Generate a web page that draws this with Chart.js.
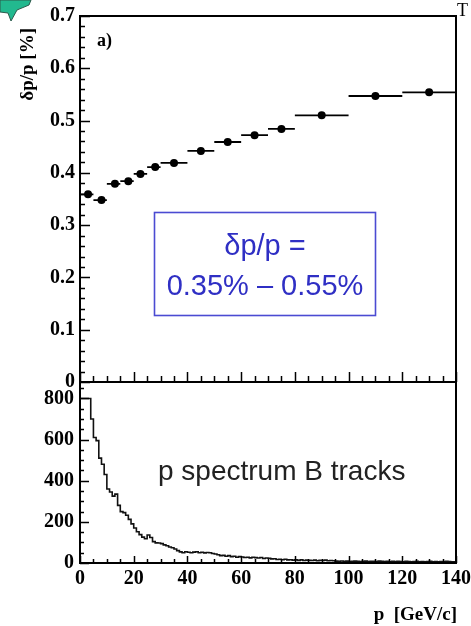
<!DOCTYPE html>
<html><head><meta charset="utf-8">
<script src="https://cdn.jsdelivr.net/npm/chart.js@4.4.1/dist/chart.umd.min.js"></script>
<style>
html,body{margin:0;padding:0;background:#fff;width:471px;height:626px;overflow:hidden;}
#top{position:absolute;left:0;top:0;}
#bot{position:absolute;left:0;top:372px;}
</style></head><body>
<canvas id="top" width="471" height="400"></canvas>
<canvas id="bot" width="471" height="254"></canvas>
<script>
// ---------- data ----------
const momentum      = [3, 8, 13, 18, 22.5, 28, 35, 45, 55, 65, 75, 90, 110, 130];      // GeV/c
const momentumLow   = [0, 5, 10, 15, 20, 25, 30, 40, 50, 60, 70, 80, 100, 120];
const momentumHigh  = [5, 10, 15, 20, 25, 30, 40, 50, 60, 70, 80, 100, 120, 140];
const resolution    = [0.359, 0.348, 0.379, 0.384, 0.398, 0.411, 0.419, 0.442, 0.459, 0.472, 0.484, 0.510, 0.547, 0.554]; // %

const histLowEdge = 0, histBinWidth = 1; // GeV/c
const histCounts = [
  800,800,800,800,800,700,610,595,510,480,
  430,360,345,325,335,280,250,245,232,212,
  190,170,152,138,126,118,136,124,104,98,
  97,94,88,84,78,74,68,60,54,50,
  55,52,50,53,55,50,52,49,51,50,
  46,44,40,36,37,33,36,31,33,28,
  31,29,27,28,25,28,26,24,27,22,
  24,23,20,21,17,18,16,18,15,16,
  14,15,13,15,12,14,13,12,14,11,
  13,12,14,11,12,11,9,8,10,8,
  9,7,8,9,8,7,8,9,7,8,
  8,7,9,8,7,8,6,8,7,8,
  7,6,8,7,6,7,8,6,7,6,
  7,8,6,7,6,7,6,8,7,6
];

const xTickValues    = [0, 20, 40, 60, 80, 100, 120, 140];
const yTopTickValues = [0, 0.1, 0.2, 0.3, 0.4, 0.5, 0.6, 0.7];
const yBotTickValues = [0, 200, 400, 600, 800];

const yTopTitle = 'δp/p [%]';
const xBotTitle = 'p  [GeV/c]';
const panelLabel = 'a)';
const boxLine1 = 'δp/p =';
const boxLine2 = '0.35% – 0.55%';
const histLabel = 'p spectrum B tracks';

// ---------- styles ----------
const SERIF = "'Liberation Serif','Times New Roman',serif";
const SANS = "'Liberation Sans',Arial,sans-serif";
const tickFont = {family: SERIF, size: 20, weight: 'bold'};

function drawAxisTicks(ctx, chart, o) {
  const xs = chart.scales.x, ys = chart.scales.y, a = chart.chartArea;
  ctx.save();
  ctx.strokeStyle = '#000';
  ctx.lineWidth = 1.5;
  ctx.beginPath();
  // left axis ticks (inward)
  for (let v = ys.min; v <= o.yMax + 1e-9; v += o.yMinor) {
    const y = Math.round(ys.getPixelForValue(v)) + 0.5;
    const major = Math.abs(v / o.yMajor - Math.round(v / o.yMajor)) < 1e-6;
    ctx.moveTo(a.left, y); ctx.lineTo(a.left + (major ? o.yMajLen : o.yMinLen), y);
  }
  // bottom axis ticks (upward)
  for (let v = 0; v <= 140 + 1e-9; v += 5) {
    const x = Math.round(xs.getPixelForValue(v)) + 0.5;
    const major = v % 20 === 0;
    ctx.moveTo(x, a.bottom); ctx.lineTo(x, a.bottom - (major ? o.xMajLen : o.xMinLen));
  }
  ctx.stroke();
  ctx.restore();
}

const topDecor = {
  id: 'topDecor',
  beforeDatasetsDraw(chart) {
    const ctx = chart.ctx, xs = chart.scales.x, ys = chart.scales.y;
    ctx.save();
    ctx.strokeStyle = '#000';
    ctx.lineWidth = 1.8;
    ctx.beginPath();
    for (let i = 0; i < momentum.length; i++) {
      const y = ys.getPixelForValue(resolution[i]);
      ctx.moveTo(xs.getPixelForValue(momentumLow[i]), y);
      ctx.lineTo(xs.getPixelForValue(momentumHigh[i]), y);
    }
    ctx.stroke();
    ctx.restore();
  },
  afterDraw(chart) {
    const ctx = chart.ctx, a = chart.chartArea;
    ctx.save();
    ctx.strokeStyle = '#000';
    ctx.lineWidth = 2;
    ctx.strokeRect(a.left, a.top, a.right - a.left, a.bottom - a.top);
    ctx.restore();
    drawAxisTicks(ctx, chart, {yMax: 0.7, yMinor: 0.02, yMajor: 0.1, yMajLen: 10, yMinLen: 5, xMajLen: 10, xMinLen: 6});

    ctx.save();
    ctx.fillStyle = '#000';
    ctx.font = "bold 18px " + SERIF;
    ctx.textAlign = 'left'; ctx.textBaseline = 'alphabetic';
    ctx.fillText(panelLabel, 97, 46);
    ctx.translate(33, 28);
    ctx.rotate(-Math.PI / 2);
    ctx.font = "bold 19px " + SERIF;
    ctx.textAlign = 'right';
    ctx.fillText(yTopTitle, 0, 0);
    ctx.restore();

    ctx.save();
    ctx.fillStyle = '#000';
    ctx.font = "18px " + SERIF;
    ctx.textAlign = 'left';
    ctx.fillText('T', 457, 16);
    ctx.fillStyle = '#22b98f';
    ctx.strokeStyle = '#2d5a4c';
    ctx.lineWidth = 1;
    ctx.beginPath();
    ctx.moveTo(0, 0); ctx.lineTo(31, 0); ctx.lineTo(29, 5); ctx.lineTo(17, 10);
    ctx.lineTo(11, 21); ctx.lineTo(8, 13); ctx.lineTo(0, 12); ctx.closePath();
    ctx.fill(); ctx.stroke();
    ctx.restore();

    ctx.save();
    ctx.strokeStyle = '#4b4bd2';
    ctx.lineWidth = 1.6;
    ctx.strokeRect(154.5, 212.5, 221, 103);
    ctx.fillStyle = '#2f2fc4';
    ctx.font = "29px " + SANS;
    ctx.textAlign = 'center';
    ctx.fillText(boxLine1, 265, 255);
    ctx.fillText(boxLine2, 265, 295);
    ctx.restore();
  }
};

const botDecor = {
  id: 'botDecor',
  afterDraw(chart) {
    const ctx = chart.ctx, a = chart.chartArea;
    ctx.save();
    ctx.strokeStyle = '#000';
    ctx.lineWidth = 2;
    ctx.beginPath();
    ctx.moveTo(a.left, a.top); ctx.lineTo(a.left, a.bottom); ctx.lineTo(a.right, a.bottom); ctx.lineTo(a.right, a.top);
    ctx.stroke();
    ctx.restore();
    drawAxisTicks(ctx, chart, {yMax: 850, yMinor: 50, yMajor: 200, yMajLen: 9, yMinLen: 4, xMajLen: 7, xMinLen: 4});

    ctx.save();
    ctx.fillStyle = '#222';
    ctx.font = "28px " + SANS;
    ctx.textAlign = 'left';
    ctx.fillText(histLabel, 158, 108);
    ctx.fillStyle = '#000';
    ctx.font = "bold 19px " + SERIF;
    ctx.textAlign = 'right';
    ctx.fillText(xBotTitle, 457, 248);
    ctx.restore();
  }
};

// ---------- top chart ----------
new Chart(document.getElementById('top'), {
  type: 'scatter',
  data: {
    datasets: [{
      data: momentum.map((m, i) => ({x: m, y: resolution[i]})),
      pointStyle: 'circle', pointRadius: 4, pointHoverRadius: 4,
      backgroundColor: '#000', borderColor: '#000', borderWidth: 0
    }]
  },
  options: {
    animation: false, responsive: false, devicePixelRatio: 1,
    layout: {padding: {left: 0, right: 15, top: 16, bottom: 18}},
    plugins: {legend: {display: false}, tooltip: {enabled: false}},
    scales: {
      x: {type: 'linear', min: 0, max: 140, display: false},
      y: {
        type: 'linear', min: 0, max: 0.7,
        grid: {display: false, drawTicks: false}, border: {display: false},
        ticks: {font: tickFont, color: '#000', padding: 5,
                callback: v => v === 0 ? '0' : Number(v).toFixed(1)},
        afterBuildTicks: s => { s.ticks = yTopTickValues.map(v => ({value: v})); },
        afterFit: s => { s.width = 80; s.paddingTop = 0; s.paddingBottom = 0; }
      }
    }
  },
  plugins: [topDecor]
});

// ---------- bottom chart ----------
const histPoints = histCounts.map((c, i) => ({x: histLowEdge + i * histBinWidth, y: c}));
histPoints.push({x: histLowEdge + histCounts.length * histBinWidth, y: histCounts[histCounts.length - 1]});

new Chart(document.getElementById('bot'), {
  type: 'line',
  data: {
    datasets: [{
      data: histPoints, stepped: 'after', borderColor: '#111', borderWidth: 1.6,
      pointRadius: 0, fill: false, tension: 0
    }]
  },
  options: {
    animation: false, responsive: false, devicePixelRatio: 1,
    layout: {padding: {left: 0, right: 15, top: 10, bottom: 0}},
    plugins: {legend: {display: false}, tooltip: {enabled: false}},
    scales: {
      x: {
        type: 'linear', min: 0, max: 140,
        grid: {display: false, drawTicks: false}, border: {display: false},
        ticks: {font: tickFont, color: '#000', padding: 4, maxRotation: 0, autoSkip: false},
        afterBuildTicks: s => { s.ticks = xTickValues.map(v => ({value: v})); },
        afterFit: s => { s.height = 63; s.paddingLeft = 0; s.paddingRight = 0; }
      },
      y: {
        type: 'linear', min: 0, max: 880,
        grid: {display: false, drawTicks: false}, border: {display: false},
        ticks: {font: tickFont, color: '#000', padding: 6},
        afterBuildTicks: s => { s.ticks = yBotTickValues.map(v => ({value: v})); },
        afterFit: s => { s.width = 80; s.paddingTop = 0; s.paddingBottom = 0; }
      }
    }
  },
  plugins: [botDecor]
});
</script>
</body></html>
